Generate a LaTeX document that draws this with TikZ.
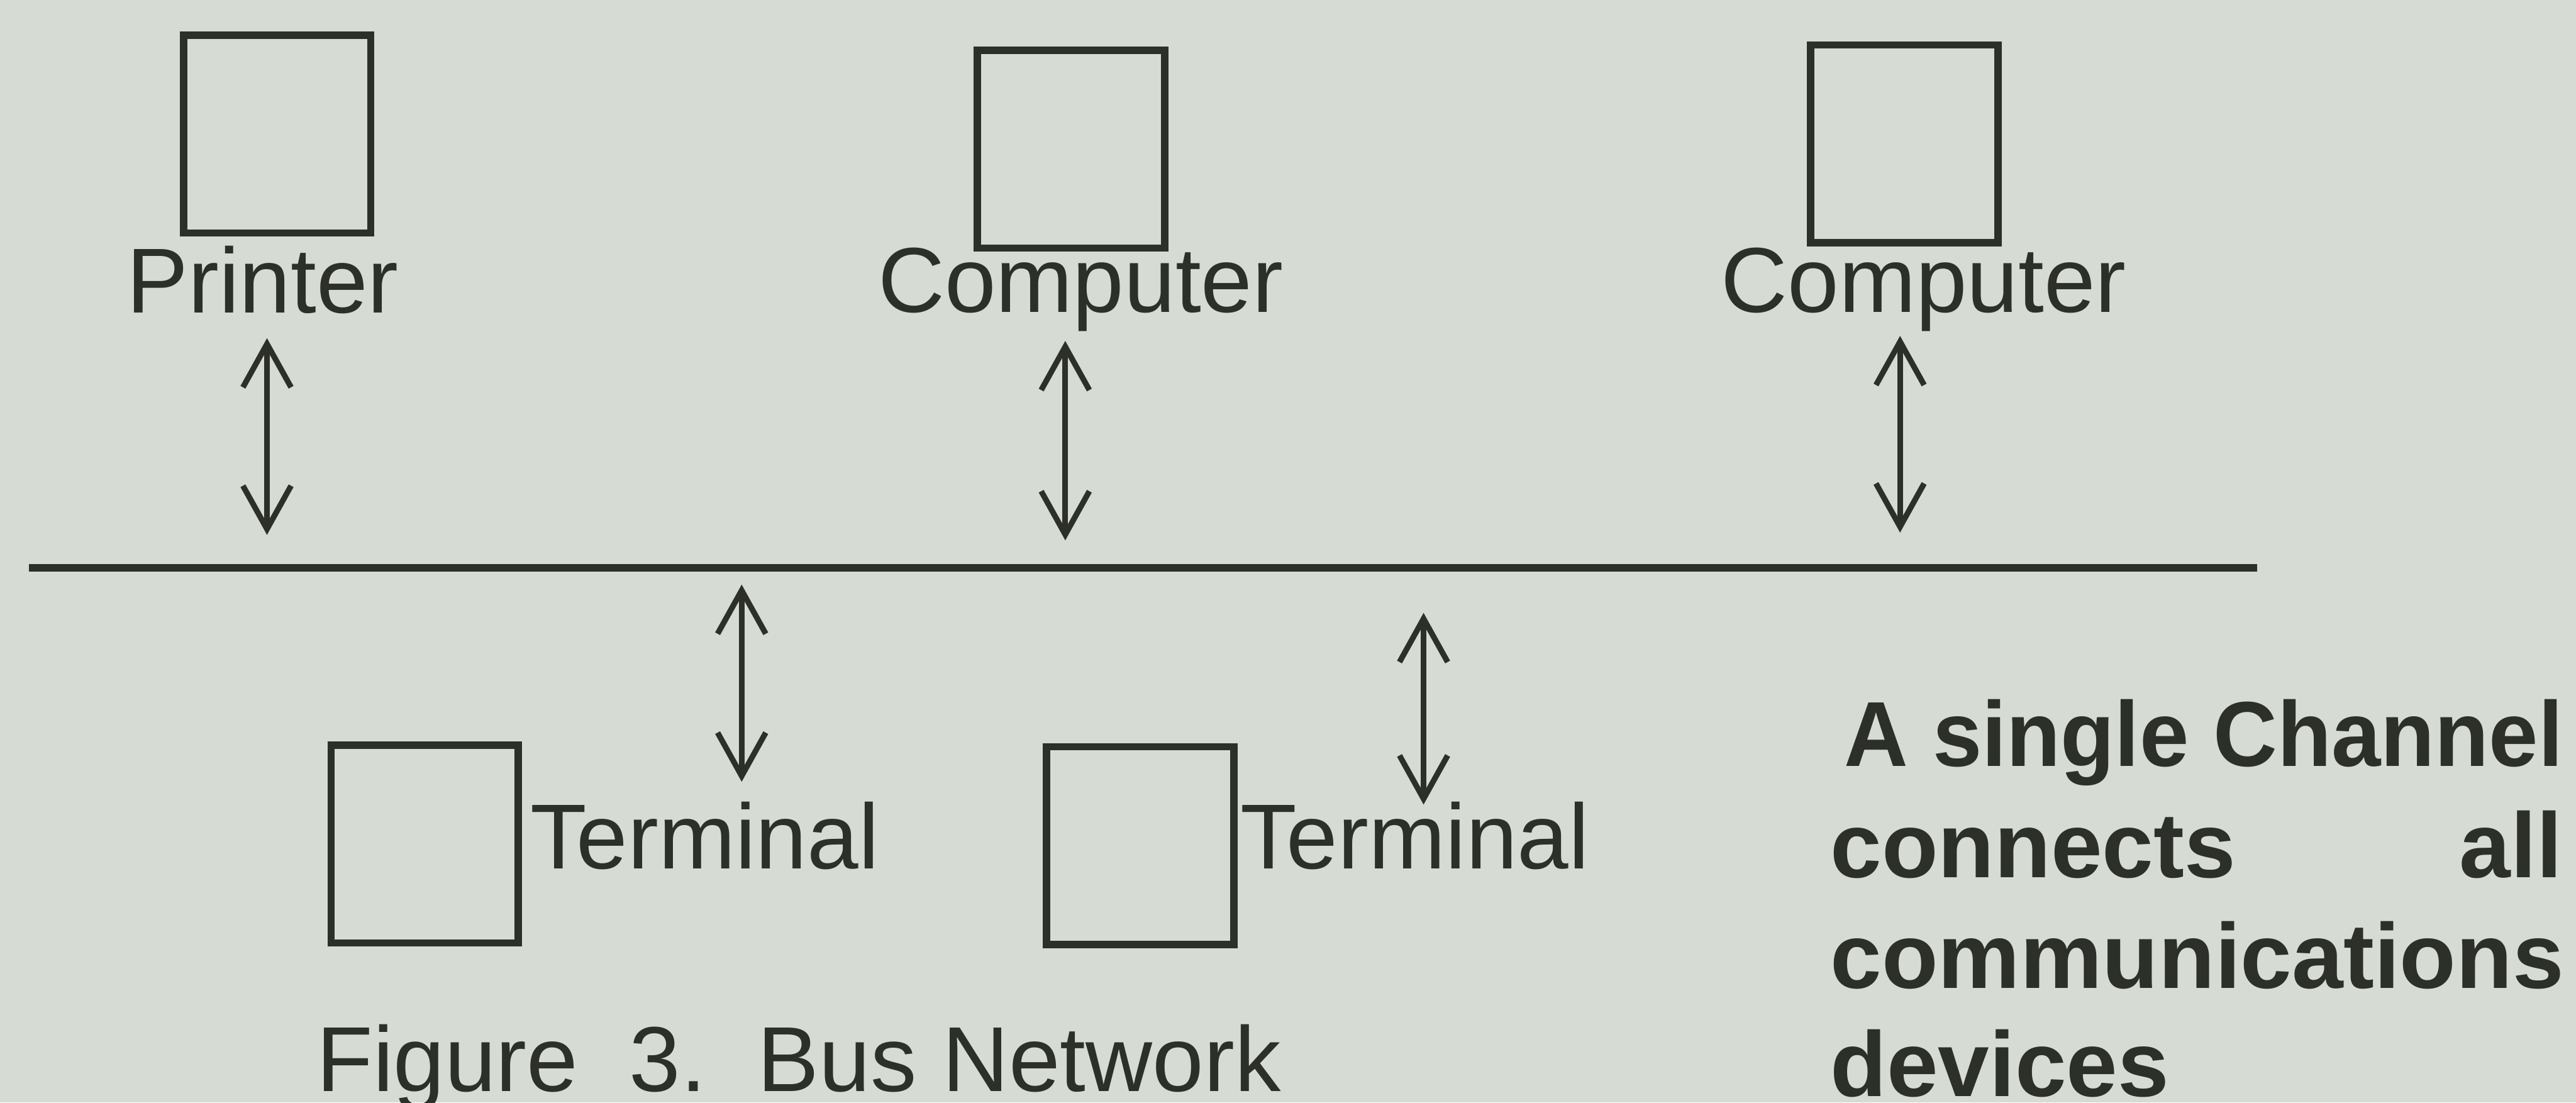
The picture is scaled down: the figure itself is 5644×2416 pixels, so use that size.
\documentclass[tikz,border=0pt]{standalone}
\usepackage{fontspec}
\setmainfont{Liberation Sans}
\usepackage{graphicx}
\usetikzlibrary{arrows.meta}
\definecolor{paper}{RGB}{214,219,211}
\definecolor{ink}{RGB}{45,48,42}
\begin{document}
\begin{tikzpicture}[x=0.01cm,y=-0.01cm,
  devbox/.style={draw=ink,line width=4.6pt,inner sep=0pt,minimum width=4.1cm,minimum height=4.33cm},
  lbl/.style={anchor=base west,inner sep=0pt,text=ink,font=\fontsize{57.5pt}{69pt}\selectfont},
  note/.style={anchor=base west,inner sep=0pt,text=ink,font=\fontsize{57.5pt}{69pt}\selectfont\bfseries},
  link/.style={draw=ink,line width=3.5pt,{Straight Barb[length=27pt,width=30pt]}-{Straight Barb[length=27pt,width=30pt]}},
  busline/.style={draw=ink,line width=4.8pt}]
\useasboundingbox (0,0) rectangle (5644,2416);
\fill[paper] (0,0) rectangle (5644,2416);
% devices
\node[devbox] (printer) at (607,294) {};
\node[devbox] (comp1) at (2346.5,327) {};
\node[devbox] (comp2) at (4172.5,315) {};
\node[devbox] (term1) at (930.5,1849.5) {};
\node[devbox] (term2) at (2498,1853) {};
% labels
\node[lbl] (printerlbl) at (277,686) {Printer};
\node[lbl] (comp1lbl) at (1923,684) {Computer};
\node[lbl] (comp2lbl) at (3770,684) {Computer};
\node[lbl] (term1lbl) at (1161,1904) {Terminal};
\node[lbl] (term2lbl) at (2717,1904) {Terminal};
\node[lbl] (caption) at (693,2392) {Figure\ \ 3.\ \ Bus Network};
% bus
\coordinate (busL) at (64,1244);
\coordinate (busR) at (4946,1244);
\draw[busline] (busL) -- (busR);
% arrows
\coordinate (a1t) at (585,741);  \coordinate (a1b) at (585,1172);
\coordinate (a2t) at (2334,747); \coordinate (a2b) at (2334,1184);
\coordinate (a3t) at (4163,736); \coordinate (a3b) at (4163,1167);
\coordinate (a4t) at (1625,1281); \coordinate (a4b) at (1625,1713);
\coordinate (a5t) at (3119,1343); \coordinate (a5b) at (3119,1763);
\draw[link] (a1t) -- (a1b);
\draw[link] (a2t) -- (a2b);
\draw[link] (a3t) -- (a3b);
\draw[link] (a4t) -- (a4b);
\draw[link] (a5t) -- (a5b);
% note
\node[note] (n1) at (4040,1679) {\scalebox{0.96}[1]{A single Channel}};
\node[note] (n2) at (4010,1923) {\makebox[16.02cm]{connects\hfill all}};
\node[note] (n3) at (4010,2166) {communications};
\node[note] (n4) at (4010,2403) {devices};
\end{tikzpicture}
\end{document}
